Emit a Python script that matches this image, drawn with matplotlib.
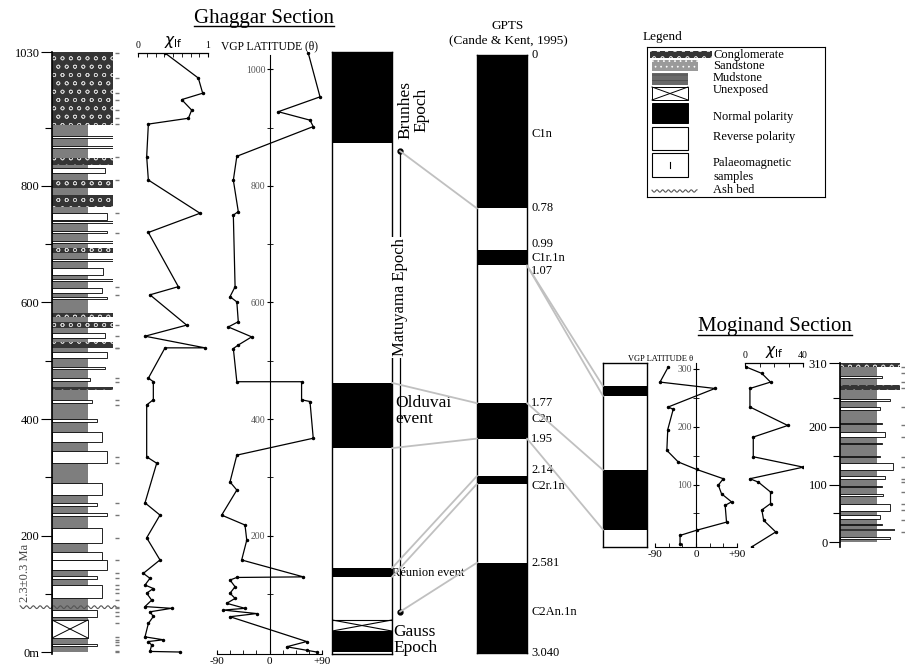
import numpy as np
import matplotlib.pyplot as plt
from matplotlib.patches import Rectangle, ConnectionPatch
from matplotlib.lines import Line2D

plt.rcParams['font.family'] = ['Liberation Serif', 'DejaVu Serif']
plt.rcParams['hatch.linewidth'] = 0.5

W, H = 905, 668

# ---------------- Ghaggar section (depth in m) ----------------
gh_top = 1030
gh_depth_ticks = [0, 200, 400, 600, 800, 1030]
gh_depth_labels = ['0m', '200', '400', '600', '800', '1030']

# beds other than mudstone: (base, top, lithology, relative width)
gh_beds = [
    (10, 14, 'sand', 0.74), (60, 72, 'sand', 0.74), (93, 115, 'sand', 0.82),
    (125, 131, 'sand', 0.74), (141, 158, 'sand', 0.90), (158, 172, 'sand', 0.82),
    (187, 213, 'sand', 0.82), (233, 238, 'sand', 0.90), (250, 255, 'sand', 0.74),
    (270, 290, 'sand', 0.82), (325, 345, 'sand', 0.90), (360, 378, 'sand', 0.82),
    (395, 400, 'sand', 0.74), (427, 432, 'sand', 0.66), (450, 455, 'cong', 1.0),
    (465, 470, 'sand', 0.62), (485, 490, 'sand', 0.87), (505, 515, 'sand', 0.90),
    (522, 532, 'cong', 1.0), (539, 547, 'sand', 0.87), (556, 567, 'cong', 1.0),
    (575, 582, 'cong', 1.0), (606, 610, 'sand', 0.90), (616, 625, 'sand', 0.82),
    (637, 641, 'sand', 1.0), (647, 659, 'sand', 0.84), (671, 675, 'sand', 1.0),
    (685, 693, 'cong', 1.0), (702, 706, 'sand', 1.0), (719, 723, 'sand', 0.90),
    (736, 740, 'sand', 1.0), (742, 753, 'sand', 0.90), (764, 785, 'cong', 1.0),
    (797, 810, 'cong', 1.0), (822, 831, 'sand', 0.87), (836, 848, 'cong', 1.0),
    (865, 869, 'sand', 1.0), (882, 886, 'sand', 1.0), (905, 1030, 'cong', 1.0),
]
gh_unexposed = [(24, 55)]
gh_ash = 77

gh_chi_depth = [1028, 985, 959, 948, 930, 916, 906, 850, 810, 753, 720, 627, 613,
                561, 542, 522, 522, 470, 464, 433, 424, 335, 324, 256, 235, 196,
                158, 135, 126.5, 115, 109, 101, 89, 78, 75, 69, 61, 49, 26, 21,
                18, 12, 1, 0]
gh_chi = [0.386, 0.862, 0.924, 0.624, 0.767, 0.72, 0.148, 0.124, 0.148, 0.886,
          0.148, 0.576, 0.171, 0.695, 0.1, 0.957, 0.386, 0.148, 0.219, 0.219,
          0.124, 0.124, 0.267, 0.1, 0.314, 0.124, 0.314, 0.076, 0.171, 0.1,
          0.219, 0.124, 0.195, 0.1, 0.48, 0.171, 0.219, 0.148, 0.1, 0.362,
          0.148, 0.195, 0.171, 0.6]

gh_vgp_depth = [1028, 953, 927.5, 913, 902, 851, 810, 756, 750, 627, 610, 601,
                567, 558, 541, 527, 521, 464, 464, 433, 430, 367, 338, 292, 278,
                235, 218, 192, 158, 129, 128, 123.6, 112, 101, 92, 83.6, 75, 72,
                66, 60.6, 18, 9, 3, 0]
gh_vgp = [66.5, 86.6, 15, 69.4, 75, -56, -62, -53.5, -62, -59, -67.7, -56,
          -53.5, -70.6, -30.5, -53.5, -62, -56, 55, 55, 69.4, 75, -56, -67.7,
          -56, -82, -42, -39, -47.7, 58, -56, -67.7, -59, -67.7, -59, -73.4,
          -42, -79, -22, -67.7, 63.7, 29.5, 63.7, 81]

gh_normal = [(874, 1030), (350, 462), (129, 144), (0, 36)]
gh_pol_unexposed = [(36, 55)]

# ---------------- GPTS (Cande & Kent, 1995), Ma ----------------
gpts_end = 3.04
gpts_normal = [(0, 0.78), (0.99, 1.07), (1.77, 1.95), (2.14, 2.18), (2.581, 3.04)]
gpts_ages = [0, 0.78, 0.99, 1.07, 1.77, 1.95, 2.14, 2.581, 3.040]
gpts_age_labels = ['0', '0.78', '0.99', '1.07', '1.77', '1.95', '2.14', '2.581', '3.040']
gpts_chrons = ['C1n', 'C1r.1n', 'C2n', 'C2r.1n', 'C2An.1n']
gpts_chron_pos = [0.40, 1.03, 1.85, 2.16, 2.83]

# ---------------- Moginand section (depth in m) ----------------
mg_top = 310
mg_depth_ticks = [0, 100, 200, 310]
mg_beds = [
    (5, 9, 'sand', 0.83), (19, 23, 'cong', 0.92), (30, 32, 'sand', 0.70),
    (41, 47, 'sand', 0.67), (55, 67, 'sand', 0.83), (80, 83, 'sand', 0.72),
    (95, 97, 'sand', 0.70), (110, 114, 'sand', 0.75), (125, 138, 'sand', 0.88),
    (147, 150, 'sand', 0.67), (170, 172, 'sand', 0.70), (182, 190, 'sand', 0.75),
    (205, 207, 'sand', 0.70), (228, 234, 'sand', 0.67), (244, 248, 'sand', 0.83),
    (263, 272, 'cong', 1.0), (284, 288, 'sand', 0.70), (303, 310, 'cong', 1.0),
]
mg_normal = [(253, 270), (22, 125)]

mg_vgp_depth = [303, 277, 266, 234, 230, 195, 159, 139, 126, 110, 99, 84, 70,
                64, 35, 21, 12, -2]
mg_vgp = [-61, -79, 41.7, -61, -50, -62, -64, -39, 1.5, 60, 49, 56, 78, 64, 67,
          1.5, -35, -35]

mg_chi_depth = [303, 292, 277, 266, 234, 202, 182, 148, 130, 110, 104, 87, 67,
                56, 38, 18, -8]
mg_chi = [0.9, 11.6, 17.6, 3.4, 3.4, 29.5, 5.7, 5.7, 40.2, 3.4, 9.3, 17.6, 17.6,
          11.6, 12.9, 21.2, 4.5]

# tie lines (depth -> age, age -> depth)
gh_ties = [(860, 0.78), (462, 1.77), (350, 1.95), (144, 2.14), (129, 2.18), (69, 2.581)]
mg_ties = [(1.07, 270), (1.07, 253), (1.77, 125), (1.95, 22)]

# ---------------- figure ----------------
fig = plt.figure(figsize=(W / 100, H / 100), dpi=100)


def px_axes(x0, y0, x1, y1):
    return fig.add_axes([x0 / W, 1 - y1 / H, (x1 - x0) / W, (y1 - y0) / H])


MUD = '#7e7e7e'
CONG = '#353535'
GREY_TIE = '#c0c0c0'

GH_Y0, GH_Y1 = 52, 654
gh_ylim = (-3.4, gh_top)
MG_Y0, MG_Y1 = 363, 547
mg_ylim = (-8, mg_top)


def draw_lith(ax, beds, top, mud_w):
    ax.add_patch(Rectangle((0, 0), mud_w, top, facecolor=MUD, edgecolor='none'))
    for base, tp, lith, w in beds:
        if lith == 'cong':
            ax.add_patch(Rectangle((0, base), w, tp - base, facecolor=CONG,
                                   edgecolor='#d0d0d0', hatch='oo', lw=0))
        else:
            ax.add_patch(Rectangle((0, base), w, tp - base, facecolor='white',
                                   edgecolor='black', lw=0.6))
    ax.set_xlim(0, 1)
    for s in ['top', 'right', 'bottom']:
        ax.spines[s].set_visible(False)
    ax.spines['left'].set_linewidth(1.2)
    ax.set_xticks([])


def draw_polarity(ax, normal, unexposed=()):
    for base, tp in normal:
        ax.axhspan(base, tp, color='black', lw=0)
    for base, tp in unexposed:
        ax.axhspan(base, tp, facecolor='white', edgecolor='black', lw=0.8)
        ax.plot([0, 1], [base, tp], color='black', lw=0.8)
        ax.plot([0, 1], [tp, base], color='black', lw=0.8)
    ax.set_xlim(0, 1)
    ax.set_xticks([])
    ax.set_yticks([])
    for s in ax.spines.values():
        s.set_linewidth(1.0)


# --- Ghaggar lithology ---
ax_gl = px_axes(52, GH_Y0, 113, GH_Y1)
draw_lith(ax_gl, gh_beds, gh_top, 0.59)
for base, tp in gh_unexposed:
    ax_gl.add_patch(Rectangle((0, base), 0.59, tp - base, facecolor='white',
                              edgecolor='black', lw=0.6))
    ax_gl.plot([0, 0.59], [base, tp], color='black', lw=0.7)
    ax_gl.plot([0, 0.59], [tp, base], color='black', lw=0.7)
ax_gl.set_ylim(*gh_ylim)
ax_gl.set_yticks(gh_depth_ticks)
ax_gl.set_yticklabels(gh_depth_labels, fontsize=9)
ax_gl.set_yticks([100, 300, 500, 700, 900], minor=True)
ax_gl.tick_params(axis='y', which='major', length=8, width=0.8, pad=1)
ax_gl.tick_params(axis='y', which='minor', length=5, width=0.8)
xs = np.linspace(-0.52, 1.07, 90)
ax_gl.plot(xs, gh_ash + 2.5 * np.sin(xs * 2 * np.pi * 9), color='#555555',
           lw=0.8, clip_on=False)
ax_gl.plot(np.full(len(gh_chi_depth), 1.06), gh_chi_depth, ls='none', marker='_',
           ms=3, color='#777777', clip_on=False)
ax_gl.text(-0.44, 135, '2.3±0.3 Ma', rotation=90, ha='center', va='center',
           fontsize=9, color='#444444')

# --- Ghaggar chi ---
ax_gc = px_axes(138, 53, 208, GH_Y1)
ax_gc.plot(gh_chi, gh_chi_depth, color='black', lw=0.9, marker='.', ms=3)
ax_gc.set_xlim(0, 1)
ax_gc.set_ylim(gh_ylim[0], 1028)
for s in ['left', 'right', 'bottom']:
    ax_gc.spines[s].set_visible(False)
ax_gc.spines['top'].set_linewidth(0.9)
ax_gc.xaxis.tick_top()
ax_gc.set_xticks([0, 1])
ax_gc.set_xticklabels(['0', '1'], fontsize=7)
ax_gc.set_xticks(np.arange(0, 1.01, 0.125), minor=True)
ax_gc.tick_params(axis='x', which='both', direction='in', length=3, pad=2)
ax_gc.set_yticks([])
ax_gc.set_xlabel(r'$\chi_{\rm lf}$', fontsize=11, labelpad=-3)
ax_gc.xaxis.set_label_position('top')

# --- Ghaggar VGP latitude ---
ax_gv = px_axes(217, GH_Y0, 322, GH_Y1)
ax_gv.plot(gh_vgp, gh_vgp_depth, color='black', lw=0.9, marker='.', ms=3)
ax_gv.set_xlim(-90, 90)
ax_gv.set_ylim(*gh_ylim)
ax_gv.spines['top'].set_visible(False)
ax_gv.spines['right'].set_visible(False)
ax_gv.spines['left'].set_position(('data', 0))
ax_gv.spines['left'].set_bounds(0, 1025)
ax_gv.spines['left'].set_linewidth(0.8)
ax_gv.spines['bottom'].set_linewidth(0.8)
ax_gv.set_yticks([200, 400, 600, 800, 1000])
ax_gv.set_yticklabels(['200', '400', '600', '800', '1000'], fontsize=7, color='#555555')
ax_gv.set_yticks([100, 300, 500, 700, 900], minor=True)
ax_gv.tick_params(axis='y', which='both', direction='inout', length=4, pad=1)
ax_gv.set_xticks([-90, 0, 90])
ax_gv.set_xticklabels(['-90', '0', '+90'], fontsize=8)
ax_gv.set_xticks(np.arange(-90, 91, 22.5), minor=True)
ax_gv.tick_params(axis='x', which='both', direction='in', length=3, pad=2)
ax_gv.text(0.5, 1.0, 'VGP LATITUDE (θ)', transform=ax_gv.transAxes, ha='center',
           va='bottom', fontsize=8.3)

# --- Ghaggar polarity ---
ax_gp = px_axes(332, GH_Y0, 392, GH_Y1)
draw_polarity(ax_gp, gh_normal, gh_pol_unexposed)
ax_gp.set_ylim(*gh_ylim)
tr = ax_gp.get_yaxis_transform()
ax_gp.plot([1.133, 1.133], [860, 69], transform=tr, color='black', lw=0.9,
           marker='o', ms=3.5, clip_on=False)
ax_gp.text(1.133, 609, 'Matuyama Epoch', transform=tr, rotation=90, ha='center',
           va='center', fontsize=12, bbox=dict(facecolor='white', edgecolor='none', pad=1))
ax_gp.text(1.36, 931, 'Brunhes\nEpoch', transform=tr, rotation=90, ha='center',
           va='center', fontsize=12.5, linespacing=1.0)
ax_gp.text(1.05, 414, 'Olduvai\nevent', transform=tr, ha='left', va='center',
           fontsize=12.5, linespacing=1.05)
ax_gp.text(1.0, 136, 'Réunion event', transform=tr, ha='left', va='center',
           fontsize=9)
ax_gp.text(1.02, 21, 'Gauss\nEpoch', transform=tr, ha='left', va='center',
           fontsize=12.5, linespacing=1.0)

# --- GPTS ---
ax_ts = px_axes(477, 55, 527, 653)
draw_polarity(ax_ts, gpts_normal)
ax_ts.set_ylim(gpts_end, 0)
trt = ax_ts.get_yaxis_transform()
for age, lab in zip(gpts_ages, gpts_age_labels):
    va = 'center'
    if lab in ('0.99', '2.14'):
        va = 'bottom'
    if lab == '1.07':
        va = 'top'
    ax_ts.text(1.08, age, lab, transform=trt, ha='left', va=va, fontsize=9)
for lab, pos in zip(gpts_chrons, gpts_chron_pos):
    ax_ts.text(1.08, pos, lab, transform=trt, ha='left',
               va='top' if lab == 'C2r.1n' else 'center', fontsize=9)
fig.text(508 / W, 1 - 33 / H, 'GPTS\n(Cande & Kent, 1995)', ha='center', va='center',
         fontsize=9.5, linespacing=1.2)

# --- Moginand polarity ---
ax_mp = px_axes(603, MG_Y0, 647, MG_Y1)
draw_polarity(ax_mp, mg_normal)
ax_mp.set_ylim(*mg_ylim)

# --- Moginand VGP ---
ax_mv = px_axes(655, MG_Y0, 737, MG_Y1)
ax_mv.plot(mg_vgp, mg_vgp_depth, color='black', lw=0.9, marker='.', ms=3)
ax_mv.set_xlim(-90, 90)
ax_mv.set_ylim(*mg_ylim)
ax_mv.spines['top'].set_visible(False)
ax_mv.spines['right'].set_visible(False)
ax_mv.spines['left'].set_position(('data', 0))
ax_mv.spines['left'].set_linewidth(0.8)
ax_mv.spines['bottom'].set_linewidth(0.8)
ax_mv.set_yticks([100, 200, 300])
ax_mv.set_yticklabels(['100', '200', '300'], fontsize=7, color='#555555')
ax_mv.set_yticks([50, 150, 250], minor=True)
ax_mv.tick_params(axis='y', which='both', direction='inout', length=4, pad=1)
ax_mv.set_xticks([-90, 0, 90])
ax_mv.set_xticklabels(['-90', '0', '+90'], fontsize=8)
ax_mv.set_xticks(np.arange(-90, 91, 30), minor=True)
ax_mv.tick_params(axis='x', which='both', direction='in', length=3, pad=2)
ax_mv.text(0.47, 1.0, 'VGP LATITUDE θ', transform=ax_mv.transAxes, ha='right',
           va='bottom', fontsize=6)

# --- Moginand chi ---
ax_mc = px_axes(745, MG_Y0, 803, MG_Y1)
ax_mc.plot(mg_chi, mg_chi_depth, color='black', lw=0.9, marker='.', ms=3)
ax_mc.set_xlim(0, 40)
ax_mc.set_ylim(*mg_ylim)
for s in ['left', 'right', 'bottom']:
    ax_mc.spines[s].set_visible(False)
ax_mc.spines['top'].set_linewidth(0.9)
ax_mc.xaxis.tick_top()
ax_mc.set_xticks([0, 40])
ax_mc.set_xticklabels(['0', '40'], fontsize=7)
ax_mc.set_xticks([10, 20, 30], minor=True)
ax_mc.tick_params(axis='x', which='both', direction='in', length=3, pad=2)
ax_mc.set_yticks([])
ax_mc.set_xlabel(r'$\chi_{\rm lf}$', fontsize=11, labelpad=-3)
ax_mc.xaxis.set_label_position('top')

# --- Moginand lithology ---
ax_ml = px_axes(840, MG_Y0, 900, MG_Y1)
draw_lith(ax_ml, mg_beds, mg_top, 0.62)
ax_ml.set_ylim(*mg_ylim)
ax_ml.set_yticks(mg_depth_ticks)
ax_ml.set_yticklabels([str(v) for v in mg_depth_ticks], fontsize=9)
ax_ml.set_yticks([50, 150, 250], minor=True)
ax_ml.tick_params(axis='y', which='major', length=8, width=0.8, pad=1)
ax_ml.tick_params(axis='y', which='minor', length=5, width=0.8)
ax_ml.plot(np.full(len(mg_chi_depth) - 1, 1.05), mg_chi_depth[:-1], ls='none',
           marker='_', ms=3, color='#777777', clip_on=False)

# --- tie lines ---
for depth, age in gh_ties:
    xa = 1.133 if age in (0.78, 2.581) else 1.0
    con = ConnectionPatch(xyA=(xa, depth), coordsA=ax_gp.get_yaxis_transform(),
                          xyB=(0, age), coordsB=ax_ts.get_yaxis_transform(),
                          color=GREY_TIE, lw=1.3)
    fig.add_artist(con)
for age, depth in mg_ties:
    con = ConnectionPatch(xyA=(1.0, age), coordsA=ax_ts.get_yaxis_transform(),
                          xyB=(0, depth), coordsB=ax_mp.get_yaxis_transform(),
                          color=GREY_TIE, lw=1.3)
    fig.add_artist(con)

# --- legend ---
ax_lg = px_axes(647, 47, 825, 197)
ax_lg.set_xlim(0, 178)
ax_lg.set_ylim(150, 0)
ax_lg.set_xticks([])
ax_lg.set_yticks([])
for s in ax_lg.spines.values():
    s.set_linewidth(0.8)
ax_lg.add_patch(Rectangle((3, 4), 62, 7, facecolor=CONG, edgecolor='#d0d0d0', hatch='oo', lw=0))
ax_lg.add_patch(Rectangle((5, 13), 46, 11, facecolor='#9a9a9a', edgecolor='white', hatch='...', lw=0))
ax_lg.add_patch(Rectangle((5, 26), 36, 12, facecolor='#6a6a6a', edgecolor='#4a4a4a', hatch='---', lw=0))
ax_lg.add_patch(Rectangle((5, 40), 36, 13, facecolor='white', edgecolor='black', lw=0.7))
ax_lg.plot([5, 41], [40, 53], color='black', lw=0.7)
ax_lg.plot([5, 41], [53, 40], color='black', lw=0.7)
ax_lg.add_patch(Rectangle((5, 56), 36, 20, facecolor='black', edgecolor='black', lw=0.7))
ax_lg.add_patch(Rectangle((5, 80), 36, 23, facecolor='white', edgecolor='black', lw=0.8))
ax_lg.add_patch(Rectangle((5, 106), 36, 24, facecolor='white', edgecolor='black', lw=0.8))
ax_lg.plot([23, 23], [115, 121], color='black', lw=0.8)
wx = np.linspace(5, 50, 60)
ax_lg.plot(wx, 144 + 1.2 * np.sin(wx * 1.1), color='#555555', lw=0.8)
leg_text = [(8, 'Conglomerate'), (19, 'Sandstone'), (31, 'Mudstone'), (43, 'Unexposed'),
            (70, 'Normal polarity'), (90, 'Reverse polarity'), (116, 'Palaeomagnetic'),
            (130, 'samples'), (143, 'Ash bed')]
for yy, txt in leg_text:
    ax_lg.text(66, yy, txt, ha='left', va='center', fontsize=9)
fig.text(643 / W, 1 - 37 / H, 'Legend', ha='left', va='center', fontsize=9.5)

# --- titles (underlined) ---
fig.canvas.draw()
for x, y, txt in [(264, 18, 'Ghaggar Section'), (775, 327, 'Moginand Section')]:
    t = fig.text(x / W, 1 - y / H, txt, ha='center', va='center', fontsize=15)
    bb = t.get_window_extent(renderer=fig.canvas.get_renderer())
    bb = bb.transformed(fig.transFigure.inverted())
    fig.add_artist(Line2D([bb.x0, bb.x1], [bb.y0 + 0.002, bb.y0 + 0.002],
                          transform=fig.transFigure, color='black', lw=1.0))

fig.savefig('out.png', dpi=100)
